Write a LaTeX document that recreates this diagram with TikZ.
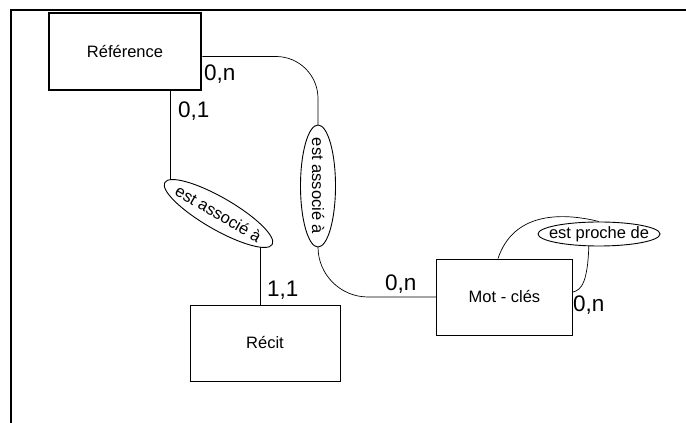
\documentclass[tikz,border=0pt]{standalone}
\usepackage{fontspec}
\setmainfont{Liberation Sans}
\usetikzlibrary{shapes.geometric,backgrounds}
\newcommand{\etiq}[1]{\makebox[0pt]{#1}}

\begin{document}
\begin{tikzpicture}[x=1pt,y=1pt,
  entite/.style={draw,fill=white,line width=0.9pt,minimum width=150pt,minimum height=76pt,font=\fontsize{16.5}{18}\selectfont},
  assoc/.style={ellipse,draw,fill=white,line width=0.9pt,inner sep=0pt,font=\fontsize{16.5}{18}\selectfont},
  card/.style={anchor=base west,inner sep=0pt,font=\fontsize{22.5}{24}\selectfont},
  lien/.style={line width=0.7pt}]
\useasboundingbox (0,0) rectangle (686,423);
\draw[line width=2pt] (11,0) -- (11,413) -- (686,413);

% entites
\node[entite,line width=2.6pt,minimum width=152pt,minimum height=77pt] (ref) at (125,371.5) {Référence};
\node[entite] (recit) at (265,80) {Récit};
\node[entite,minimum width=136pt] (mot) at (504.5,126) {Mot - clés};

% associations
\node[assoc,rotate=-30,minimum width=124pt,minimum height=32pt] (assoc1) at (218.5,209.5) {\etiq{est associé à}};
\node[assoc,rotate=-90,minimum width=122pt,minimum height=35pt] (assoc2) at (318,237) {\etiq{est associé à}};
\node[assoc,minimum width=122pt,minimum height=24pt] (proche) at (599,189) {\etiq{est proche de}};

% liens
\begin{scope}[on background layer]
\draw[lien] ([xshift=45pt]ref.south) -- ([xshift=45pt]ref.south |- assoc1.west);
\draw[lien] ([xshift=-5pt]recit.north) -- ([xshift=-5pt]recit.north |- assoc1.east);
\draw[lien,rounded corners=42pt] ([yshift=-5pt]ref.east) -| (assoc2.center);
\draw[lien,rounded corners=50pt] (assoc2.center) |- (mot.west);
\draw[lien] ([xshift=-6.5pt]mot.north) .. controls +(15,45) and +(-40,10) .. (proche.north);
\draw[lien] ([xshift=-10pt]proche.center) .. controls +(0,-50) and +(8,2) .. ([yshift=5pt]mot.east);
\end{scope}

% cardinalites
\node[card] (c1) at (204,342) {0,n};
\node[card] (c2) at (178,305) {0,1};
\node[card] (c3) at (267,126) {1,1};
\node[card] (c4) at (385,132) {0,n};
\node[card] (c5) at (573,111) {0,n};
\end{tikzpicture}
\end{document}
